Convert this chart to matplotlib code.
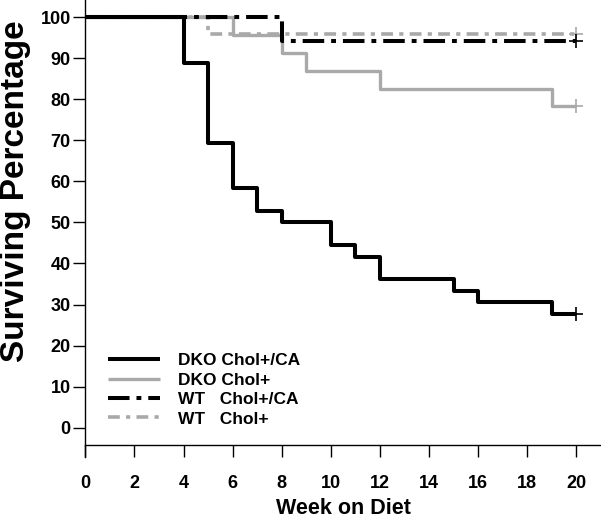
import matplotlib
matplotlib.use('Agg')
import matplotlib.pyplot as plt

# Kaplan-Meier style survival curves
dko_ca_weeks = [0, 4, 5, 6, 7, 8, 10, 11, 12, 15, 16, 19, 20]
dko_ca_surv = [100, 88.9, 69.4, 58.3, 52.8, 50.0, 44.4, 41.7, 36.1, 33.3, 30.6, 27.8, 27.8]

dko_weeks = [0, 6, 8, 9, 12, 19, 20]
dko_surv = [100, 95.7, 91.3, 87.0, 82.6, 78.3, 78.3]

wt_ca_weeks = [0, 8, 20]
wt_ca_surv = [100, 94.1, 94.1]

wt_weeks = [0, 5, 20]
wt_surv = [100, 95.8, 95.8]

labels = ['DKO Chol+/CA', 'DKO Chol+', 'WT   Chol+/CA', 'WT   Chol+']
x_ticks = list(range(0, 21, 2))
y_ticks = list(range(0, 101, 10))

plt.rcParams['font.family'] = ['Liberation Sans', 'DejaVu Sans']
plt.rcParams['font.weight'] = 'bold'
plt.rcParams['lines.scale_dashes'] = False

gray = '#a9a9a9'
fig = plt.figure(figsize=(6.01, 5.2), dpi=100)
ax = fig.add_axes([85.3 / 601, 1 - 457 / 520, 1 - 85.3 / 601, 457 / 520])

series = [
    (dko_ca_weeks, dko_ca_surv, 'black', 2.9, '-'),
    (dko_weeks, dko_surv, gray, 2.4, '-'),
    (wt_ca_weeks, wt_ca_surv, 'black', 2.9, (0, (15.5, 5, 3.5, 5))),
    (wt_weeks, wt_surv, gray, 2.6, (0, (8.5, 4.5, 3, 4.5))),
]
# draw gray first so black sits on top, legend keeps the original order
handles = [None] * 4
for i in [1, 3, 0, 2]:
    w, s, c, lw, ls = series[i]
    ln, = ax.step(w, s, where='post', color=c, lw=lw, linestyle=ls,
                  solid_capstyle='butt', dash_capstyle='butt', clip_on=False)
    ax.plot(w[-1], s[-1], marker='+', color=c, markersize=10, mew=1.2,
            clip_on=False)
    handles[i] = ln

ax.set_xlim(0, 21)
ax.set_ylim(-7.15, 104.2)
ax.spines['top'].set_visible(False)
ax.spines['right'].set_visible(False)
ax.spines['bottom'].set_position(('data', -4.2))
ax.spines['left'].set_linewidth(1)
ax.spines['bottom'].set_linewidth(1)
ax.set_xticks(x_ticks)
ax.set_yticks(y_ticks)
ax.tick_params(direction='out', length=8.5, width=1, labelsize=13)
ax.tick_params(axis='y', pad=2)
ax.tick_params(axis='x', pad=13)
for t in ax.get_xticklabels() + ax.get_yticklabels():
    t.set_fontweight('bold')

ax.set_xlabel('Week on Diet', fontsize=15.5, fontweight='bold', labelpad=4.5)
ax.set_ylabel('Surviving Percentage', fontsize=24, fontweight='bold')
ax.yaxis.set_label_coords(-0.106, 0.582)

leg = ax.legend(handles, labels, loc='lower left', bbox_to_anchor=(0.021, 0.04),
                frameon=False, fontsize=12.5, handlelength=3.0, handletextpad=1.0,
                labelspacing=0.25, borderaxespad=0.3)
for t in leg.get_texts():
    t.set_fontweight('bold')

fig.savefig('out.png', dpi=100)
